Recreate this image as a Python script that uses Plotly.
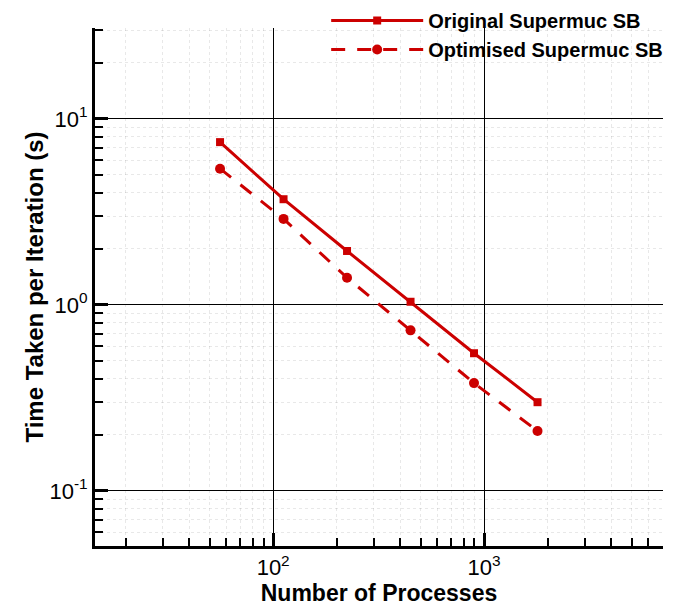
import plotly.graph_objects as go
import math

processes = [56, 112, 224, 448, 896, 1792]
original_time = [7.5, 3.7, 1.95, 1.04, 0.55, 0.30]
optimised_time = [5.4, 2.9, 1.4, 0.73, 0.38, 0.21]

x_major = [100, 1000]
x_major_text = ["10<sup>2</sup>", "10<sup>3</sup>"]
y_major = [0.1, 1, 10]
y_major_text = ["10<sup>-1</sup>", "10<sup>0</sup>", "10<sup>1</sup>"]

red = "#CC0000"
font = "Liberation Sans, Arial, Helvetica, sans-serif"

x_minor = [m * 10 ** e for e in range(1, 4) for m in range(2, 10)]
y_minor = [m * 10 ** e for e in range(-2, 2) for m in range(2, 10)]

fig = go.Figure()
fig.add_trace(go.Scatter(
    x=processes, y=original_time, mode="lines+markers",
    name="<b>Original Supermuc SB</b>",
    line=dict(color=red, width=3),
    marker=dict(symbol="square", size=8, color=red),
))
fig.add_trace(go.Scatter(
    x=processes, y=optimised_time, mode="lines+markers",
    name="<b>Optimised Supermuc SB</b>",
    line=dict(color=red, width=3, dash="14px,12px"),
    marker=dict(symbol="circle", size=10, color=red),
))

minor_grid = "rgba(0,0,0,0.09)"
axis_common = dict(
    type="log",
    showline=True, linecolor="black", linewidth=3,
    ticks="inside", ticklen=13, tickwidth=3, tickcolor="black",
    showgrid=True, gridcolor="black", gridwidth=1,
    zeroline=False, mirror=False, automargin=False,
    tickfont=dict(family=font, size=22, color="black"),
)

fig.update_xaxes(
    **axis_common,
    range=[math.log10(14.3), math.log10(7050)],
    tickmode="array", tickvals=x_major, ticktext=x_major_text,
    title=dict(text="<b>Number of Processes</b>", font=dict(family=font, size=23, color="black"), standoff=4),
    minor=dict(tickmode="array", tickvals=x_minor, ticks="inside", ticklen=8, tickwidth=1.5,
               tickcolor="black", showgrid=True, gridcolor=minor_grid, griddash="dot", gridwidth=1),
)
fig.update_yaxes(
    **axis_common,
    range=[math.log10(0.0506), math.log10(30.8)],
    tickmode="array", tickvals=y_major, ticktext=y_major_text,
    title=dict(text="<b>Time Taken per Iteration (s)</b>", font=dict(family=font, size=24, color="black"), standoff=0),
    minor=dict(tickmode="array", tickvals=y_minor, ticks="inside", ticklen=8, tickwidth=1.5,
               tickcolor="black", showgrid=True, gridcolor=minor_grid, griddash="dot", gridwidth=1),
)

# The page body adds an 8px offset, so the figure is 8px smaller with shifted margins.
fig.update_layout(
    width=676, height=598, autosize=False,
    margin=dict(l=87, r=21, t=20, b=60, autoexpand=False),
    paper_bgcolor="white", plot_bgcolor="white",
    font=dict(family=font, color="black"),
    legend=dict(x=0.407, y=1.052, xanchor="left", yanchor="top",
                bgcolor="rgba(255,255,255,0)", font=dict(family=font, size=20, color="black"),
                itemwidth=92, tracegroupgap=0),
    showlegend=True,
)

fig.write_html("out.html")
